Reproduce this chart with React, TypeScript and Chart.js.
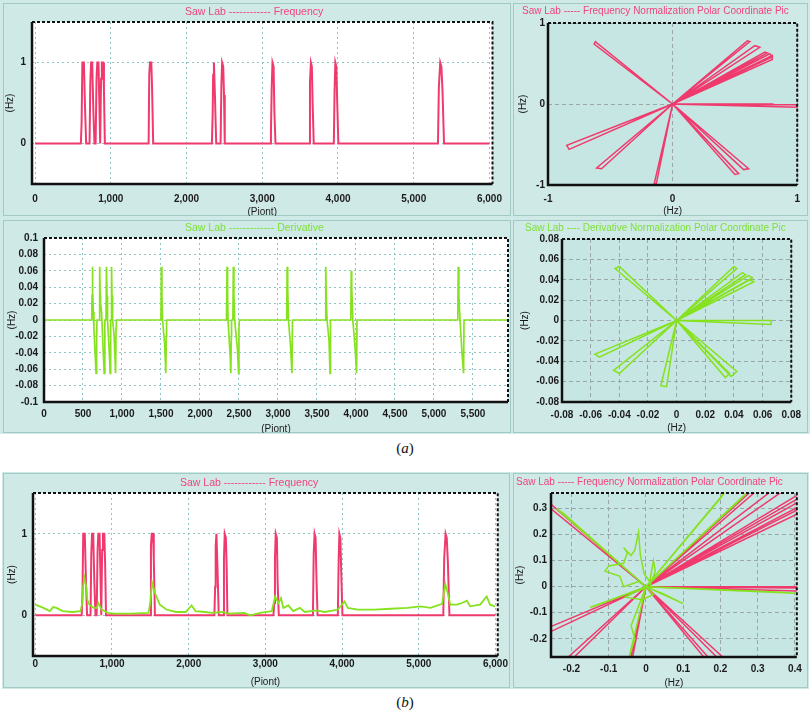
import React, { useEffect, useRef } from 'react';
import { Chart, registerables } from 'chart.js';
Chart.register(...registerables);

type P = [number, number];

// ---------- DATA ----------
const frequencyPoints: P[] = [
  [0, 0], [605, 0], [615, 0.25], [625, 1], [645, 1], [660, 0.45], [675, 0],
  [720, 0], [730, 0.75], [740, 1], [755, 1], [770, 0.4], [785, 0],
  [800, 0], [812, 0.8], [822, 1], [838, 1], [848, 0.55], [860, 0],
  [865, 0], [872, 0.8], [882, 1], [900, 1], [910, 0.65], [922, 0],
  [1500, 0], [1508, 0.85], [1518, 1], [1535, 1], [1545, 0.7], [1560, 0],
  [2335, 0], [2345, 0.35], [2352, 0.85], [2362, 1], [2375, 0.6], [2392, 0],
  [2450, 0], [2460, 0.7], [2470, 1], [2485, 0.95], [2495, 0.6], [2505, 0],
  [3105, 0], [3115, 0.15], [3125, 0.7], [3135, 1], [3150, 0.95], [3160, 0.4], [3175, 0],
  [3620, 0], [3630, 0.75], [3642, 1], [3655, 0.95], [3665, 0.5], [3680, 0],
  [3945, 0], [3955, 0.65], [3965, 1], [3978, 0.95], [3990, 0.5], [4005, 0],
  [5320, 0], [5332, 0.7], [5350, 1], [5365, 0.95], [5380, 0.65], [5400, 0],
  [6000, 0],
];

const derivativePoints: P[] = [
  [0, 0],
  [612, 0], [616, 0.03], [620, 0.065], [626, 0.035], [632, 0.01], [640, -0.01], [650, -0.03], [668, -0.065], [675, -0.02], [680, 0],
  [708, 0], [714, 0.065], [720, 0.03], [726, 0.02], [738, 0.01], [760, -0.04], [772, -0.065], [778, -0.02], [782, 0],
  [795, 0], [801, 0.065], [808, 0.03], [815, 0], [840, -0.045], [848, -0.065], [853, -0.01], [857, 0],
  [862, 0], [866, 0.065], [872, 0.03], [880, 0], [900, -0.02], [918, -0.065], [924, -0.01], [928, 0],
  [1500, 0], [1505, 0.065], [1512, 0.03], [1520, 0], [1548, -0.03], [1562, -0.065], [1568, -0.02], [1572, 0],
  [2340, 0], [2347, 0.065], [2354, 0.035], [2360, 0], [2388, -0.045], [2396, -0.065], [2402, -0.02], [2405, 0],
  [2422, 0], [2428, 0.065], [2435, 0.03], [2445, 0], [2480, -0.035], [2495, -0.065], [2500, -0.01], [2505, 0],
  [3112, 0], [3118, 0.065], [3125, 0.04], [3135, 0], [3160, -0.03], [3180, -0.065], [3186, 0],
  [3607, 0], [3613, 0.065], [3620, 0.025], [3630, 0], [3655, -0.025], [3668, -0.065], [3674, 0],
  [3934, 0], [3940, 0.06], [3946, 0.04], [3960, 0], [3990, -0.035], [4008, -0.065], [4014, 0],
  [5306, 0], [5312, 0.065], [5320, 0.03], [5335, 0], [5360, -0.04], [5380, -0.065], [5386, 0],
  [5950, 0],
];

const smoothedPoints: P[] = [
  [0, 0.13], [105, 0.09], [190, 0.05], [232, 0.1], [274, 0.09], [359, 0.05], [485, 0.04], [590, 0.05],
  [612, 0.15], [624, 0.36], [641, 0.46], [662, 0.36], [679, 0.19], [705, 0.13], [760, 0.09], [801, 0.09],
  [823, 0.15], [865, 0.07], [949, 0.03], [1034, 0.02], [1245, 0.02], [1477, 0.03], [1498, 0.15], [1523, 0.4],
  [1561, 0.27], [1624, 0.13], [1709, 0.07], [1835, 0.04], [1962, 0.04], [2038, 0.12], [2089, 0.05], [2215, 0.04],
  [2300, 0.03], [2447, 0.04], [2511, 0.02], [2722, 0.03], [2806, 0.0], [2932, 0.03], [3083, 0.05], [3127, 0.23],
  [3170, 0.15], [3204, 0.21], [3234, 0.09], [3299, 0.12], [3363, 0.05], [3450, 0.09], [3514, 0.04], [3666, 0.06],
  [3774, 0.04], [3946, 0.07], [4032, 0.17], [4075, 0.09], [4204, 0.07], [4420, 0.07], [4636, 0.08], [4851, 0.09],
  [5024, 0.11], [5153, 0.09], [5304, 0.14], [5347, 0.38], [5378, 0.27], [5412, 0.13], [5498, 0.13], [5563, 0.15],
  [5627, 0.18], [5670, 0.11], [5800, 0.13], [5886, 0.23], [5929, 0.13], [5994, 0.11],
];

const freqPolarTips: [P, P][] = [
  [[-0.62, 0.77], [-0.63, 0.74]],
  [[0.62, 0.77], [0.6, 0.78]],
  [[0.7, 0.7], [0.66, 0.72]],
  [[0.76, 0.63], [0.74, 0.64]],
  [[0.8, 0.58], [0.78, 0.62]],
  [[0.8, 0.55], [0.8, 0.6]],
  [[1.0, -0.04], [0.99, -0.01]],
  [[0.82, -0.01], [0.8, 0.0]],
  [[0.61, -0.8], [0.57, -0.81]],
  [[0.53, -0.86], [0.5, -0.87]],
  [[-0.15, -1.0], [-0.13, -0.98]],
  [[-0.61, -0.79], [-0.57, -0.8]],
  [[-0.85, -0.51], [-0.83, -0.56]],
];

const derivPolarTips: [P, P][] = [
  [[-0.04, 0.053], [-0.043, 0.051]],
  [[0.04, 0.053], [0.042, 0.051]],
  [[0.046, 0.047], [0.048, 0.045]],
  [[0.051, 0.04], [0.054, 0.038]],
  [[0.053, 0.042], [0.05, 0.044]],
  [[0.066, 0.0], [0.066, -0.004]],
  [[0.042, -0.05], [0.038, -0.055]],
  [[0.034, -0.056], [0.037, -0.052]],
  [[-0.011, -0.064], [-0.007, -0.065]],
  [[-0.044, -0.049], [-0.04, -0.052]],
  [[-0.057, -0.033], [-0.054, -0.036]],
];

const mixedPolarGreen: P[] = [
  [0, 0], [-0.24, 0.3], [-0.22, 0.28], [0, 0],
  [0.27, 0.36], [0.25, 0.33], [0, 0],
  [0.21, 0.36], [0.2, 0.34], [0, 0],
  [0.4, -0.025], [0.35, -0.02], [0, 0],
  [0.1, -0.065], [0.05, -0.03], [0, 0],
  [-0.15, -0.08], [-0.13, -0.07], [0, 0],
  [-0.045, -0.27], [-0.03, -0.2], [-0.04, -0.15], [0, 0],
  [-0.02, 0.02], [-0.06, 0.0], [-0.07, 0.04], [-0.11, 0.06], [-0.1, 0.08], [-0.06, 0.09],
  [-0.05, 0.13], [-0.06, 0.15], [-0.04, 0.12], [-0.03, 0.14], [-0.02, 0.21], [-0.015, 0.12],
  [-0.005, 0.05], [0.01, 0.02], [0.02, 0.1], [0.025, 0.06], [0.01, 0.0], [-0.03, -0.02],
  [-0.055, -0.04], [-0.01, -0.05], [0.02, -0.03], [0, 0],
];

const freqTicksX = [0, 1000, 2000, 3000, 4000, 5000, 6000];
const freqTicksY = [0, 1];
const derivTicksX = [0, 500, 1000, 1500, 2000, 2500, 3000, 3500, 4000, 4500, 5000, 5500];
const derivTicksY = [-0.1, -0.08, -0.06, -0.04, -0.02, 0, 0.02, 0.04, 0.06, 0.08, 0.1];
const polarTicks = [-1, 0, 1];
const derivPolarTicks = [-0.08, -0.06, -0.04, -0.02, 0, 0.02, 0.04, 0.06, 0.08];
const mixedTicksX = [-0.2, -0.1, 0, 0.1, 0.2, 0.3, 0.4];
const mixedTicksY = [-0.2, -0.1, 0, 0.1, 0.2, 0.3];

// ---------- STYLE ----------
const PINK = '#f03a6e';
const GREEN = '#86e21e';
const PANEL_BG = '#cfe9e7';
const POLAR_BG = '#c6e6e3';
const TICK_FONT = { family: 'Liberation Sans, Arial, sans-serif', size: 10, weight: 'bold' as const };
const AXIS_FONT = { family: 'Liberation Sans, Arial, sans-serif', size: 10 };

const spokes = (tips: [P, P][]): P[] =>
  tips.flatMap(([a, b]) => [[0, 0] as P, a, b]).concat([[0, 0] as P]);
const toXY = (pts: P[]) => pts.map(([x, y]) => ({ x, y }));

const fmtThousands = (v: number) => v.toLocaleString('en-US');
const fmtDec = (v: number) => String(+v.toFixed(2));

const framePlugin = {
  id: 'frame',
  beforeDraw(chart: any, _a: any, opts: any) {
    const { ctx, chartArea: a } = chart;
    ctx.save();
    ctx.fillStyle = opts.bg;
    ctx.fillRect(a.left, a.top, a.right - a.left, a.bottom - a.top);
    ctx.restore();
  },
  afterDraw(chart: any) {
    const { ctx, chartArea: a } = chart;
    ctx.save();
    ctx.strokeStyle = '#111';
    ctx.lineWidth = 2;
    ctx.setLineDash([3, 2]);
    ctx.beginPath();
    ctx.moveTo(a.left, a.top);
    ctx.lineTo(a.right, a.top);
    ctx.lineTo(a.right, a.bottom);
    ctx.stroke();
    ctx.setLineDash([]);
    ctx.lineWidth = 2.5;
    ctx.beginPath();
    ctx.moveTo(a.left, a.top);
    ctx.lineTo(a.left, a.bottom);
    ctx.lineTo(a.right, a.bottom);
    ctx.stroke();
    ctx.restore();
  },
};

interface AxisSpec {
  min: number;
  max: number;
  ticks: number[];
  fmt: (v: number) => string;
  title: string;
  size: number;
  tickPad: number;
  titlePad: number;
}

interface Spec {
  left: number;
  top: number;
  width: number;
  height: number;
  padTop: number;
  padRight: number;
  bg: string;
  gridColor: string;
  gridDash: number[];
  series: { pts: P[]; color: string; w: number }[];
  x: AxisSpec;
  y: AxisSpec;
  title: string;
  titleColor: string;
  titleX: number;
  titleY: number;
  titleSize: number;
}

function axis(a: AxisSpec, horizontal: boolean, gridColor: string, gridDash: number[]) {
  return {
    type: 'linear',
    min: a.min,
    max: a.max,
    afterBuildTicks: (sc: any) => {
      sc.ticks = a.ticks.map((v) => ({ value: v }));
    },
    afterFit: (sc: any) => {
      if (horizontal) sc.height = a.size;
      else sc.width = a.size;
    },
    grid: { color: gridColor, drawTicks: false, lineWidth: 1 },
    border: { display: false, dash: gridDash },
    ticks: {
      padding: a.tickPad,
      font: TICK_FONT,
      color: '#1a1a1a',
      autoSkip: false,
      maxRotation: 0,
      callback: (v: any) => a.fmt(Number(v)),
    },
    title: {
      display: true,
      text: a.title,
      font: AXIS_FONT,
      color: '#1a1a1a',
      padding: horizontal ? { top: 0, bottom: a.titlePad } : { top: a.titlePad, bottom: 0 },
    },
  };
}

function Panel({ s }: { s: Spec }) {
  const ref = useRef<HTMLCanvasElement | null>(null);
  useEffect(() => {
    if (!ref.current) return;
    const chart = new Chart(ref.current, {
      type: 'scatter',
      data: {
        datasets: s.series.map((d) => ({
          data: toXY(d.pts),
          showLine: true,
          borderColor: d.color,
          backgroundColor: d.color,
          borderWidth: d.w,
          pointRadius: 0,
          tension: 0,
        })),
      },
      options: {
        animation: false,
        responsive: false,
        devicePixelRatio: 1,
        layout: { padding: { top: s.padTop, right: s.padRight, left: 0, bottom: 0 } },
        plugins: {
          legend: { display: false },
          tooltip: { enabled: false },
          frame: { bg: s.bg },
        } as any,
        scales: {
          x: axis(s.x, true, s.gridColor, s.gridDash) as any,
          y: axis(s.y, false, s.gridColor, s.gridDash) as any,
        },
      },
      plugins: [framePlugin as any],
    });
    return () => chart.destroy();
  }, []);
  return (
    <>
      <div
        style={{
          position: 'absolute',
          left: s.left,
          top: s.top,
          width: s.width,
          height: s.height,
          boxSizing: 'border-box',
          border: '1px solid #a3c9c7',
          background: PANEL_BG,
        }}
      />
      <canvas
        ref={ref}
        width={s.width}
        height={s.height}
        style={{ position: 'absolute', left: s.left, top: s.top, width: s.width, height: s.height }}
      />
      <div
        style={{
          position: 'absolute',
          left: s.titleX,
          top: s.titleY,
          whiteSpace: 'nowrap',
          font: `${s.titleSize}px "Liberation Sans", Arial, sans-serif`,
          color: s.titleColor,
          lineHeight: '12px',
        }}
      >
        {s.title}
      </div>
    </>
  );
}

const specs: Spec[] = [
  {
    left: 3, top: 3, width: 508, height: 213, padTop: 19, padRight: 3,
    bg: '#ffffff', gridColor: '#8fc4c4', gridDash: [2, 3],
    series: [{ pts: frequencyPoints, color: PINK, w: 2 }],
    x: { min: -40, max: 6040, ticks: freqTicksX, fmt: fmtThousands, title: '(Piont)', size: 32, tickPad: 9, titlePad: -2 },
    y: { min: -0.5, max: 1.5, ticks: freqTicksY, fmt: fmtDec, title: '(Hz)', size: 29, tickPad: 6, titlePad: 1 },
    title: 'Saw Lab ------------ Frequency', titleColor: '#f0447c', titleX: 185, titleY: 5, titleSize: 10.5,
  },
  {
    left: 513, top: 3, width: 295, height: 213, padTop: 20, padRight: 10,
    bg: POLAR_BG, gridColor: '#98a8a6', gridDash: [4, 3],
    series: [{ pts: spokes(freqPolarTips), color: PINK, w: 1.5 }],
    x: { min: -1, max: 1, ticks: polarTicks, fmt: fmtDec, title: '(Hz)', size: 31, tickPad: 8, titlePad: -1 },
    y: { min: -1, max: 1, ticks: polarTicks, fmt: fmtDec, title: '(Hz)', size: 35, tickPad: 3, titlePad: 4 },
    title: 'Saw Lab ----- Frequency Normalization Polar Coordinate Pic', titleColor: '#f0447c', titleX: 522, titleY: 5, titleSize: 10,
  },
  {
    left: 3, top: 220, width: 508, height: 213, padTop: 18, padRight: 3,
    bg: '#ffffff', gridColor: '#8fc4c4', gridDash: [2, 3],
    series: [{ pts: derivativePoints, color: GREEN, w: 1.7 }],
    x: { min: 0, max: 5950, ticks: derivTicksX, fmt: fmtThousands, title: '(Piont)', size: 31, tickPad: 6, titlePad: -2 },
    y: { min: -0.1, max: 0.1, ticks: derivTicksY, fmt: fmtDec, title: '(Hz)', size: 41, tickPad: 6, titlePad: 3 },
    title: 'Saw Lab ------------- Derivative', titleColor: '#7ee03a', titleX: 185, titleY: 221, titleSize: 10.5,
  },
  {
    left: 513, top: 220, width: 295, height: 213, padTop: 19, padRight: 11,
    bg: POLAR_BG, gridColor: '#98a8a6', gridDash: [4, 3],
    series: [{ pts: spokes(derivPolarTips), color: GREEN, w: 1.5 }],
    x: { min: -0.08, max: 0.08, ticks: derivPolarTicks, fmt: fmtDec, title: '(Hz)', size: 31, tickPad: 7, titlePad: -1 },
    y: { min: -0.08, max: 0.08, ticks: derivPolarTicks, fmt: fmtDec, title: '(Hz)', size: 49, tickPad: 3, titlePad: 6 },
    title: 'Saw Lab ---- Derivative Normalization Polar Coordinate Pic', titleColor: '#7ee03a', titleX: 525, titleY: 222, titleSize: 10,
  },
  {
    left: 3, top: 473, width: 507, height: 215, padTop: 20, padRight: 9,
    bg: '#ffffff', gridColor: '#8fc4c4', gridDash: [2, 3],
    series: [
      { pts: smoothedPoints, color: GREEN, w: 1.8 },
      { pts: frequencyPoints, color: PINK, w: 2 },
    ],
    x: { min: -30, max: 6030, ticks: freqTicksX, fmt: fmtThousands, title: '(Piont)', size: 32, tickPad: 2, titlePad: 0 },
    y: { min: -0.5, max: 1.5, ticks: freqTicksY, fmt: fmtDec, title: '(Hz)', size: 30, tickPad: 6, titlePad: 3 },
    title: 'Saw Lab ------------ Frequency', titleColor: '#f0447c', titleX: 180, titleY: 476, titleSize: 10.5,
  },
  {
    left: 513, top: 473, width: 295, height: 215, padTop: 20, padRight: 10,
    bg: POLAR_BG, gridColor: '#98a8a6', gridDash: [4, 3],
    series: [
      { pts: mixedPolarGreen, color: GREEN, w: 1.5 },
      { pts: spokes(freqPolarTips), color: PINK, w: 1.5 },
    ],
    x: { min: -0.255, max: 0.405, ticks: mixedTicksX, fmt: fmtDec, title: '(Hz)', size: 31, tickPad: 6, titlePad: -1 },
    y: { min: -0.27, max: 0.36, ticks: mixedTicksY, fmt: fmtDec, title: '(Hz)', size: 38, tickPad: 4, titlePad: 1 },
    title: 'Saw Lab ----- Frequency Normalization Polar Coordinate Pic', titleColor: '#f0447c', titleX: 516, titleY: 476, titleSize: 10,
  },
];

export default function App() {
  return (
    <div style={{ position: 'absolute', left: 0, top: 0, width: 810, height: 713, background: '#fff', overflow: 'hidden' }}>
      <div style={{ position: 'absolute', left: 0, top: 0, width: 810, height: 434, background: PANEL_BG }} />
      <div style={{ position: 'absolute', left: 2, top: 472, width: 807, height: 217, background: PANEL_BG }} />
      {specs.map((s, i) => (
        <Panel key={i} s={s} />
      ))}
      <div
        style={{
          position: 'absolute', left: 0, top: 439, width: 810, textAlign: 'center',
          font: '15px "Liberation Serif", "Times New Roman", serif', color: '#111', lineHeight: '18px',
        }}
      >
        (<i>a</i>)
      </div>
      <div
        style={{
          position: 'absolute', left: 0, top: 693, width: 810, textAlign: 'center',
          font: '15px "Liberation Serif", "Times New Roman", serif', color: '#111', lineHeight: '18px',
        }}
      >
        (<i>b</i>)
      </div>
    </div>
  );
}
